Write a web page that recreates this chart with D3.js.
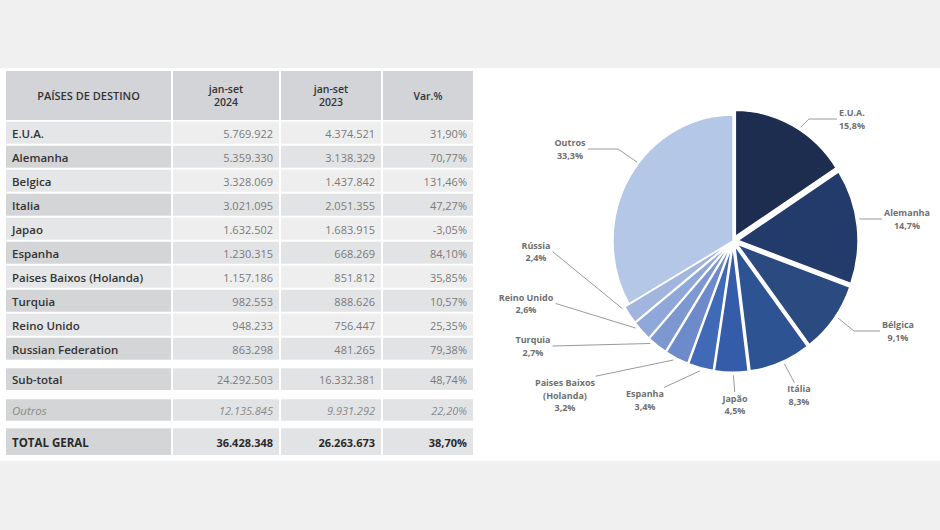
<!DOCTYPE html>
<html><head><meta charset="utf-8">
<script src="https://cdn.jsdelivr.net/npm/d3@7"></script>
<style>
html,body{margin:0;padding:0;background:#f0f0f0;}
svg{display:block;font-family:"Open Sans",sans-serif;}
</style></head>
<body>
<svg id="chart" width="940" height="530"></svg>
<script>
// ---------------- DATA ----------------
const headers = ["PAÍSES DE DESTINO", "jan-set\n2024", "jan-set\n2023", "Var.%"];
const countries = ["E.U.A.", "Alemanha", "Belgica", "Italia", "Japao", "Espanha",
  "Paises Baixos (Holanda)", "Turquia", "Reino Unido", "Russian Federation"];
const values2024 = [5769922, 5359330, 3328069, 3021095, 1632502, 1230315, 1157186, 982553, 948233, 863298];
const values2023 = [4374521, 3138329, 1437842, 2051355, 1683915, 668269, 851812, 888626, 756447, 481265];
const varPct = [31.90, 70.77, 131.46, 47.27, -3.05, 84.10, 35.85, 10.57, 25.35, 79.38];
const subtotalRow = ["Sub-total", 24292503, 16332381, 48.74];
const outrosRow = ["Outros", 12135845, 9931292, 22.20];
const totalRow = ["TOTAL GERAL", 36428348, 26263673, 38.70];

const pieLabels = ["E.U.A.", "Alemanha", "Bélgica", "Itália", "Japão", "Espanha",
  "Paises Baixos\n(Holanda)", "Turquia", "Reino Unido", "Rússia", "Outros"];
const pieValues = values2024.concat([outrosRow[1]]);
const pieColors = ["#1d2d50", "#233b6b", "#2a4a80", "#2e5393", "#345ca8", "#4069b8",
  "#6d8bca", "#7d98d1", "#8fa7d9", "#a1b5df", "#b5c7e6"];

// label layout (offsets from pie centre, px) and leader-line attachment
const labelLayout = [
  {dx: 119, dy: -122, hook: 28, anchor: [0, 0.5], nudge: 3.5},
  {dx: 174, dy: -22, hook: 21, anchor: [0, 0.5], nudge: -3},
  {dx: 165, dy: 90, hook: 26, anchor: [0, 0.5], nudge: -1.5},
  {dx: 66, dy: 154, hook: 0, anchor: [0.3, 0], nudge: -1.5},
  {dx: 2, dy: 163.5, hook: 0, anchor: [0.5, 0], nudge: -1},
  {dx: -88, dy: 159, hook: 0, anchor: [1, 0], nudge: 0},
  {dx: -168, dy: 154, hook: 0, anchor: [1, 0], nudge: 1},
  {dx: -200, dy: 105, hook: 0, anchor: [1, 0.5], nudge: 3},
  {dx: -207, dy: 62.5, hook: 0, anchor: [1, 0.5], nudge: 2.8},
  {dx: -197, dy: 10.5, hook: 0, anchor: [1, 0.5], nudge: 4},
  {dx: -163, dy: -92, hook: 30, anchor: [1, 0.5], nudge: 8}
];

// ---------------- FORMAT ----------------
const loc = d3.formatLocale({decimal: ",", thousands: ".", grouping: [3], currency: ["", ""], minus: "-"});
const fInt = loc.format(",d");
const fPct = v => loc.format(".2f")(v) + "%";
const fPie = v => loc.format(".1f")(v) + "%";

const svg = d3.select("#chart");
// background panels
svg.append("rect").attr("x", 0).attr("y", 0).attr("width", 940).attr("height", 530).attr("fill", "#f0f0f0");
svg.append("rect").attr("x", 0).attr("y", 68).attr("width", 940).attr("height", 393).attr("fill", "#ffffff");

// ---------------- TABLE ----------------
const cols = [[6, 171], [173, 279], [281, 381], [383, 473]];
const table = svg.append("g");

// header
const headerY = [71, 120];
cols.forEach((c, j) => {
  table.append("rect").attr("x", c[0]).attr("y", headerY[0]).attr("width", c[1] - c[0])
    .attr("height", headerY[1] - headerY[0]).attr("fill", "#d2d4d7");
  const lines = headers[j].split("\n");
  const cy = (headerY[0] + headerY[1]) / 2;
  lines.forEach((ln, k) => {
    table.append("text").attr("x", (c[0] + c[1]) / 2)
      .attr("y", cy + (k - (lines.length - 1) / 2) * 12.5)
      .attr("text-anchor", "middle").attr("dominant-baseline", "central")
      .attr("font-size", j === 0 ? 11 : 10.5).attr("font-weight", 600).attr("fill", "#333")
      .text(ln);
  });
});

const yBand = d3.scaleBand().domain(countries).range([121.7, 121.7 + 23.8 * countries.length]).paddingInner(2 / 23.8);

const rows = countries.map((c, i) => ({
  cells: [c, values2024[i], values2023[i], varPct[i]], y: yBand(c), h: yBand.bandwidth(),
  light: i % 2 === 0, kind: "country"
}));
rows.push({cells: subtotalRow, y: 368.3, h: 21.7, light: false, kind: "sub"});
rows.push({cells: outrosRow, y: 399.3, h: 21.4, light: false, kind: "outros"});
rows.push({cells: totalRow, y: 428.3, h: 26.7, light: false, kind: "total"});

rows.forEach(r => {
  cols.forEach((c, j) => {
    let fill;
    if (j === 0) fill = r.light ? "#e5e6e7" : "#d3d5d7";
    else fill = r.light ? "#eeeeef" : "#e2e3e5";
    table.append("rect").attr("x", c[0]).attr("y", r.y).attr("width", c[1] - c[0])
      .attr("height", r.h).attr("fill", fill);
    const v = r.cells[j];
    const txt = j === 0 ? v : (j === 3 ? fPct(v) : fInt(v));
    const t = table.append("text")
      .attr("x", j === 0 ? c[0] + 6 : c[1] - 6)
      .attr("y", r.y + r.h / 2 + 0.5)
      .attr("text-anchor", j === 0 ? "start" : "end")
      .attr("dominant-baseline", "central")
      .attr("font-size", j === 0 ? 11.5 : 11)
      .text(txt);
    if (r.kind === "total") {
      t.attr("font-weight", 700).attr("fill", "#2a2a2a");
    } else if (r.kind === "outros") {
      t.attr("font-style", "italic").attr("fill", "#8a8a8a");
    } else if (j === 0) {
      t.attr("font-weight", 600).attr("fill", "#333");
    } else {
      t.attr("fill", "#7a7a7a");
    }
  });
});

// ---------------- PIE ----------------
const cx = 733, cy = 241, R = 120, sy = 1.05, explode = 5;
const pie = d3.pie().sort(null).value(d => d)(pieValues);
const arc = d3.arc().innerRadius(0).outerRadius(R);
const lastIdx = pieValues.length - 1;

const pieG = svg.append("g").attr("transform", `translate(${cx},${cy}) scale(1,${sy})`);
pieG.selectAll("path").data(pie).join("path")
  .attr("d", arc)
  .attr("fill", (d, i) => pieColors[i])
  .attr("stroke", "#fff").attr("stroke-width", 1.4)
  .attr("transform", (d, i) => {
    if (i === lastIdx) return null;
    const a = (d.startAngle + d.endAngle) / 2;
    return `translate(${Math.sin(a) * explode},${-Math.cos(a) * explode})`;
  });

const total = d3.sum(pieValues);
const labG = svg.append("g");
pie.forEach((d, i) => {
  const L = labelLayout[i];
  const lines = pieLabels[i].split("\n").concat([fPie(d.value / total * 100)]);
  const lx = cx + L.dx, ly = cy + L.dy;
  const lh = 12.5;
  const tg = labG.append("g");
  lines.forEach((ln, k) => {
    tg.append("text").attr("x", lx).attr("y", ly + (k - (lines.length - 1) / 2) * lh)
      .attr("text-anchor", "middle").attr("dominant-baseline", "central")
      .attr("font-size", 9).attr("font-weight", 700).attr("fill", "#707070")
      .text(ln);
  });
  const bb = tg.node().getBBox();
  const bx0 = bb.x, bx1 = bb.x + bb.width;
  const by0 = ly - (lines.length * lh) / 2 + 2, by1 = ly + (lines.length * lh) / 2 - 2;
  let ex = bx0 + (bx1 - bx0) * L.anchor[0];
  let ey = by0 + (by1 - by0) * L.anchor[1];
  if (L.anchor[1] === 0.5) ex += L.anchor[0] === 0 ? -2 : 2;
  else ey -= 2;
  const a = (d.startAngle + d.endAngle) / 2 + L.nudge * Math.PI / 180;
  const rr = R + (i === lastIdx ? 2 : explode + 3);
  const sx = cx + Math.sin(a) * rr, syy = cy - Math.cos(a) * rr * sy;
  const pts = [[sx, syy]];
  if (L.hook > 0) pts.push([ex + (L.anchor[0] === 0 ? -L.hook : L.hook), ey]);
  pts.push([ex, ey]);
  labG.append("path").attr("d", d3.line()(pts)).attr("fill", "none")
    .attr("stroke", "#9a9a9a").attr("stroke-width", 1);
});
</script>
</body></html>
